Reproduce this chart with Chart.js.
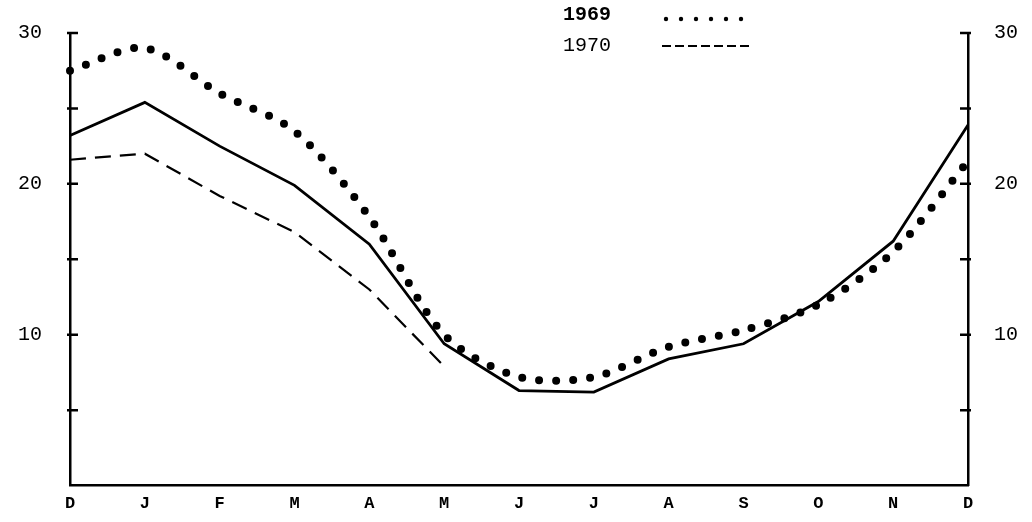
<!DOCTYPE html>
<html><head>
<script src="https://cdn.jsdelivr.net/npm/chart.js@4"></script>
<style>body{margin:0;background:#fff}#wrap{width:1032px;height:522px}</style>
</head><body><div id="wrap"><canvas id="c"></canvas></div>
<script>
// Data
const months = ['D','J','F','M','A','M','J','J','A','S','O','N','D'];
const avgSeries = [23.2, 25.4, 22.5, 19.9, 16.0, 9.4, 6.3, 6.2, 8.4, 9.4, 12.2, 16.2, 23.9];
const series1969 = [27.5, 29.0, 26.0, 23.5, 17.8, 10.0, 7.2, 7.2, 9.2, 10.3, 12.0, 15.5, 21.5];
const series1970 = [21.6, 22.0, 19.2, 16.8, 13.0, 7.9, null, null, null, null, null, null, null];
const yTickLabels = {10: '10', 20: '20', 30: '30'};

const axisFont = {family: "'Liberation Mono', monospace", size: 20};

// Legend drawn by hand like the original
const legendPlugin = {
  id: 'legendHand',
  afterDraw(chart) {
    const ctx = chart.ctx;
    ctx.save();
    ctx.fillStyle = '#000';
    ctx.textBaseline = 'middle';
    ctx.font = "bold 20px 'Liberation Mono', monospace";
    ctx.fillText('1969', 563, 15);
    ctx.font = "20px 'Liberation Mono', monospace";
    ctx.fillText('1970', 563, 46);
    ctx.fillStyle = '#000';
    for (let i = 0; i < 6; i++) {
      ctx.beginPath();
      ctx.arc(666 + i * 15, 19, 2.2, 0, Math.PI * 2);
      ctx.fill();
    }
    ctx.strokeStyle = '#000';
    ctx.lineWidth = 2;
    ctx.setLineDash([9, 4]);
    ctx.beginPath();
    ctx.moveTo(662, 46);
    ctx.lineTo(752, 46);
    ctx.stroke();
    ctx.restore();
  }
};

new Chart(document.getElementById('c'), {
  type: 'line',
  data: {
    labels: months,
    datasets: [
      {data: avgSeries, borderColor: '#000', borderWidth: 2.8, pointRadius: 0, tension: 0},
      {data: series1969, borderColor: '#000', borderWidth: 8, borderDash: [0, 17], borderCapStyle: 'round', pointRadius: 0, tension: 0.3},
      {data: series1970, borderColor: '#000', borderWidth: 2.2, borderDash: [16, 9], pointRadius: 0, tension: 0, spanGaps: false}
    ]
  },
  options: {
    responsive: true,
    maintainAspectRatio: false,
    animation: false,
    layout: {padding: {top: 33}},
    plugins: {legend: {display: false}, tooltip: {enabled: false}},
    scales: {
      x: {
        offset: false,
        grid: {display: false, drawTicks: false},
        border: {color: '#000', width: 2.5},
        ticks: {color: '#000', font: {...axisFont, weight: 'bold', size: 17}, padding: 8, maxRotation: 0, autoSkip: false}
      },
      y: {
        min: 0, max: 30,
        afterFit(s) { s.width = 70; },
        grid: {display: false},
        border: {color: '#000', width: 2.5},
        ticks: {stepSize: 5, color: '#000', font: axisFont, padding: 20, callback: v => yTickLabels[v] || ''}
      },
      y2: {
        position: 'right',
        min: 0, max: 30,
        afterFit(s) { s.width = 64; },
        grid: {display: false},
        border: {color: '#000', width: 2.5},
        ticks: {stepSize: 5, color: '#000', font: axisFont, padding: 18, callback: v => yTickLabels[v] || ''}
      }
    }
  },
  plugins: [legendPlugin, {
    id: 'tickMarks',
    afterDraw(chart) {
      const ctx = chart.ctx, a = chart.chartArea, y = chart.scales.y;
      ctx.save();
      ctx.strokeStyle = '#000';
      ctx.lineWidth = 2.5;
      for (let v = 5; v <= 30; v += 5) {
        const py = y.getPixelForValue(v);
        ctx.beginPath();
        ctx.moveTo(a.left - 3, py); ctx.lineTo(a.left + 8, py);
        ctx.moveTo(a.right - 8, py); ctx.lineTo(a.right + 3, py);
        ctx.stroke();
      }
      ctx.restore();
    }
  }]
});
</script></body></html>
